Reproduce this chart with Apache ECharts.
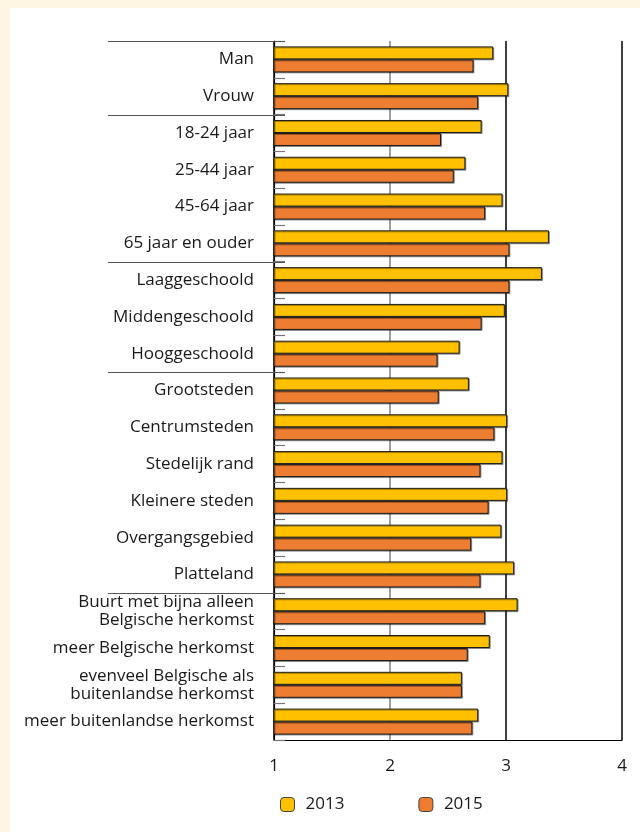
<!DOCTYPE html>
<html><head><meta charset="utf-8">
<script src="https://cdn.jsdelivr.net/npm/echarts@6/dist/echarts.min.js"></script>
<style>
html,body{margin:0;padding:0;background:#fef5e2;width:640px;height:832px;overflow:hidden;}
#c{position:absolute;left:10px;top:8px;width:630px;height:824px;background:#fff;}
</style></head><body>
<div id="c"></div>
<script>
const categories = ['Man','Vrouw','18-24 jaar','25-44 jaar','45-64 jaar','65 jaar en ouder','Laaggeschoold','Middengeschoold','Hooggeschoold','Grootsteden','Centrumsteden','Stedelijk rand','Kleinere steden','Overgangsgebied','Platteland','Buurt met bijna alleen\nBelgische herkomst','meer Belgische herkomst','evenveel Belgische als\nbuitenlandse herkomst','meer buitenlandse herkomst'];
const values2013 = [2.89,3.02,2.79,2.65,2.97,3.37,3.31,2.99,2.60,2.68,3.01,2.97,3.01,2.96,3.07,3.10,2.86,2.62,2.76];
const values2015 = [2.72,2.76,2.44,2.55,2.82,3.03,3.03,2.79,2.41,2.42,2.90,2.78,2.85,2.70,2.78,2.82,2.67,2.62,2.71];
const groupStarts = [0,2,6,9,15];
const xTicks = [1,2,3,4];

const chart = echarts.init(document.getElementById('c'));
const font = "'Open Sans', 'Noto Sans', sans-serif";
const barStyle = (c) => ({color:c, borderColor:'#1a1a1a', borderWidth:1, shadowColor:'rgba(0,0,0,0.35)', shadowOffsetX:1, shadowOffsetY:1, shadowBlur:0});
const gridLeft = 264;
chart.setOption({
  animation:false,
  textStyle:{fontFamily:font},
  grid:{left:gridLeft, right:18, top:33, bottom:92},
  legend:{left:265, top:783, itemWidth:14, itemHeight:14, itemGap:74,
    textStyle:{fontSize:17, color:'#1a1a1a', fontFamily:font, padding:[0,0,0,6]},
    data:[{name:'2013', itemStyle:{color:'#ffc000', borderColor:'#444', borderWidth:1}},
          {name:'2015', itemStyle:{color:'#ed7d31', borderColor:'#444', borderWidth:1}}]},
  xAxis:{type:'value', min:xTicks[0], max:xTicks[xTicks.length-1], interval:1,
    axisLine:{show:true, lineStyle:{color:'#000', width:1.2}},
    axisTick:{show:false},
    axisLabel:{fontSize:17, color:'#1a1a1a', margin:18, fontFamily:font},
    splitLine:{show:true, lineStyle:{color:['#000','#808080','#000','#000'], width:1.5}}},
  yAxis:{type:'category', data:categories, inverse:true,
    axisLine:{show:true, lineStyle:{color:'#000', width:1.2}},
    axisTick:{show:true, inside:true, length:11, lineStyle:{color:'#777', width:1.2}},
    axisLabel:{fontSize:17, color:'#1a1a1a', margin:20, lineHeight:18, fontFamily:font}},
  series:[
    {name:'2013', type:'bar', data:values2013, barWidth:13, barGap:'0%', itemStyle:barStyle('#ffc000')},
    {name:'2015', type:'bar', data:values2015, barWidth:13, barGap:'0%', itemStyle:barStyle('#ed7d31')}
  ]
});
// group separators at category boundaries, positioned via the axis scale
const c0 = chart.convertToPixel({yAxisIndex:0}, categories[0]);
const c1 = chart.convertToPixel({yAxisIndex:0}, categories[1]);
const band = c1 - c0;
const xAxisStart = chart.convertToPixel({xAxisIndex:0}, xTicks[0]);
const lines = groupStarts.map(i => {
  const y = Math.round(chart.convertToPixel({yAxisIndex:0}, categories[i]) - band/2) + 0.5;
  return {type:'line', shape:{x1:xAxisStart-166, y1:y, x2:xAxisStart+11, y2:y}, style:{stroke:'#555', lineWidth:1.2}, z:10};
});
chart.setOption({graphic:lines});
</script></body></html>
